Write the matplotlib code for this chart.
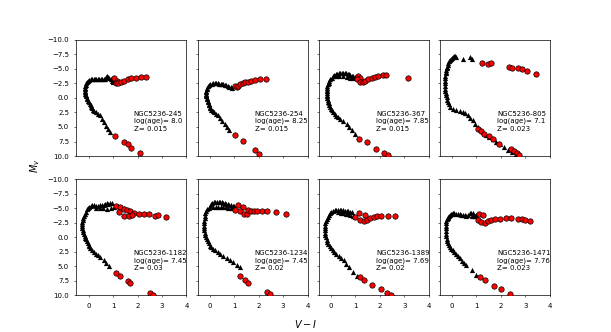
import numpy as np
import matplotlib.pyplot as plt

# クラスター名・年齢・金属量
names = ["NGC5236-245", "NGC5236-254", "NGC5236-367", "NGC5236-805",
         "NGC5236-1182", "NGC5236-1234", "NGC5236-1389", "NGC5236-1471"]
ages = ["8.0", "8.25", "7.85", "7.1", "7.45", "7.45", "7.69", "7.76"]
metals = ["0.015", "0.015", "0.015", "0.023", "0.03", "0.02", "0.02", "0.023"]

# 等時線 (V-I, Mv)
iso_245 = [(0.89, 5.85), (0.8, 5.3), (0.72, 4.8), (0.63, 4.2), (0.55, 3.6), (0.45, 3.0),
           (0.38, 2.7), (0.3, 2.4), (0.24, 2.2), (0.19, 2.0), (0.15, 1.75), (0.11, 1.5),
           (0.08, 1.25), (0.05, 1.0), (0.02, 0.75), (-0.02, 0.5), (-0.05, 0.25), (-0.08, 0.0),
           (-0.1, -0.25), (-0.12, -0.5), (-0.14, -0.75), (-0.15, -1.0), (-0.16, -1.25),
           (-0.16, -1.5), (-0.15, -1.75), (-0.14, -2.0), (-0.12, -2.25), (-0.09, -2.5),
           (-0.06, -2.7), (-0.02, -2.9), (0.03, -3.05), (0.08, -3.2), (0.14, -3.28),
           (0.2, -3.3), (0.26, -3.3), (0.32, -3.3), (0.38, -3.28), (0.44, -3.25), (0.5, -3.22),
           (0.56, -3.2), (0.62, -3.18), (0.68, -3.3), (0.72, -3.55), (0.76, -3.75),
           (0.8, -3.6), (0.85, -3.4), (0.9, -3.2), (0.95, -3.0), (1.0, -2.75)]
obs_245 = [(1.03, -3.37), (1.16, -2.97), (1.12, -2.5), (1.22, -2.6), (1.32, -2.8),
           (1.46, -2.97), (1.6, -3.2), (1.73, -3.37), (1.93, -3.49), (2.14, -3.54),
           (2.34, -3.66), (1.08, 6.6), (1.43, 7.58), (1.6, 7.98), (1.73, 8.56), (2.09, 9.48)]

iso_254 = [(0.8, 5.56), (0.72, 5.0), (0.63, 4.5), (0.52, 4.0), (0.42, 3.5), (0.32, 3.0),
           (0.25, 2.75), (0.18, 2.5), (0.12, 2.25), (0.07, 2.0), (0.03, 1.75), (0.0, 1.5),
           (-0.03, 1.25), (-0.05, 1.0), (-0.07, 0.75), (-0.09, 0.5), (-0.11, 0.25),
           (-0.12, 0.0), (-0.14, -0.25), (-0.15, -0.5), (-0.15, -0.75), (-0.15, -1.0),
           (-0.14, -1.25), (-0.12, -1.5), (-0.1, -1.75), (-0.07, -2.0), (-0.03, -2.2),
           (0.02, -2.35), (0.08, -2.45), (0.14, -2.52), (0.2, -2.55), (0.26, -2.53),
           (0.32, -2.5), (0.38, -2.47), (0.44, -2.43), (0.5, -2.38), (0.56, -2.32),
           (0.62, -2.25), (0.68, -2.15), (0.74, -2.05), (0.8, -1.95), (0.86, -1.82),
           (0.92, -1.7)]
obs_254 = [(1.03, -2.1), (1.1, -1.8), (1.16, -2.05), (1.23, -2.33), (1.34, -2.5),
           (1.43, -2.68), (1.57, -2.8), (1.7, -2.97), (1.84, -3.08), (2.04, -3.2),
           (2.28, -3.2), (1.03, 6.43), (1.34, 7.4), (1.84, 8.9), (2.01, 9.6)]

iso_367 = [(0.99, 6.14), (0.88, 5.6), (0.76, 5.0), (0.64, 4.5), (0.5, 4.0), (0.36, 3.6),
           (0.28, 3.35), (0.21, 3.05), (0.15, 2.75), (0.1, 2.45), (0.05, 2.15), (0.01, 1.85),
           (-0.03, 1.55), (-0.06, 1.25), (-0.09, 0.95), (-0.11, 0.65), (-0.13, 0.35),
           (-0.15, 0.05), (-0.16, -0.25), (-0.17, -0.55), (-0.17, -0.85), (-0.17, -1.15),
           (-0.16, -1.45), (-0.15, -1.75), (-0.14, -2.05), (-0.12, -2.35), (-0.09, -2.65),
           (-0.06, -2.95), (-0.02, -3.2), (0.03, -3.45), (0.08, -3.7), (0.14, -3.9),
           (0.2, -4.08), (0.26, -4.2), (0.32, -4.3), (0.38, -4.35), (0.44, -4.35),
           (0.5, -4.32), (0.56, -4.28), (0.62, -4.22), (0.68, -4.15), (0.74, -4.05),
           (0.8, -3.95), (0.86, -3.85), (0.92, -3.72), (0.98, -3.55), (0.2, -3.75),
           (0.35, -3.8), (0.5, -3.75), (0.65, -3.65), (0.8, -3.5), (0.9, -3.35)]
obs_367 = [(1.12, -3.83), (1.19, -3.37), (1.05, -3.2), (1.19, -2.68), (1.3, -2.8),
           (1.39, -2.97), (1.53, -3.2), (1.66, -3.49), (1.8, -3.66), (1.93, -3.78),
           (2.11, -3.89), (2.27, -3.95), (3.15, -3.37), (1.16, 7.0), (1.46, 7.58),
           (1.86, 8.73), (2.16, 9.48), (2.34, 9.9)]

iso_805 = [(2.74, 10.0), (2.6, 9.65), (2.47, 9.31), (2.3, 8.9), (2.14, 8.44), (1.97, 8.0),
           (1.8, 7.58), (1.66, 7.15), (1.53, 6.71), (1.4, 6.3), (1.26, 5.85), (1.15, 5.4),
           (1.05, 4.99), (0.95, 4.4), (0.85, 3.83), (0.75, 3.4), (0.65, 2.97), (0.55, 2.65),
           (0.45, 2.39), (0.32, 2.25), (0.18, 2.1), (0.05, 1.85), (-0.07, 1.53), (-0.12, 1.1),
           (-0.16, 0.66), (-0.19, 0.3), (-0.22, -0.1), (-0.24, -0.45), (-0.26, -0.78),
           (-0.28, -1.2), (-0.29, -1.6), (-0.3, -2.05), (-0.3, -2.5), (-0.29, -2.95),
           (-0.28, -3.4), (-0.27, -3.8), (-0.26, -4.24), (-0.25, -4.5), (-0.23, -4.8),
           (-0.22, -5.1), (-0.2, -5.39), (-0.18, -5.7), (-0.15, -6.0), (-0.12, -6.3),
           (-0.09, -6.54), (-0.05, -6.7), (0.0, -6.83), (0.04, -7.0), (0.07, -7.23),
           (0.12, -7.15), (0.18, -7.1), (0.45, -6.66), (0.72, -7.1), (0.82, -6.66)]
obs_805 = [(1.23, -5.97), (1.46, -5.85), (1.59, -5.97), (2.34, -5.39), (2.47, -5.22),
           (2.68, -5.1), (2.88, -4.93), (3.08, -4.7), (3.45, -4.12), (1.05, 5.27),
           (1.19, 5.68), (1.32, 6.14), (1.5, 6.54), (1.66, 7.0), (1.93, 7.98),
           (2.41, 8.73), (2.54, 9.13), (2.64, 9.48), (2.74, 9.88)]

iso_1182 = [(0.82, 4.96), (0.72, 4.4), (0.61, 3.91), (0.48, 3.4), (0.38, 3.1), (0.3, 2.8),
            (0.22, 2.5), (0.14, 2.2), (0.07, 1.88), (0.03, 1.55), (0.0, 1.25), (-0.04, 0.95),
            (-0.07, 0.65), (-0.1, 0.35), (-0.13, 0.05), (-0.16, -0.25), (-0.19, -0.6),
            (-0.22, -0.95), (-0.24, -1.3), (-0.26, -1.65), (-0.27, -2.0), (-0.27, -2.35),
            (-0.26, -2.7), (-0.24, -3.05), (-0.21, -3.4), (-0.18, -3.75), (-0.14, -4.1),
            (-0.1, -4.45), (-0.06, -4.8), (-0.02, -5.05), (0.03, -5.3), (0.08, -5.45),
            (0.15, -5.5), (0.22, -5.5), (0.3, -5.48), (0.38, -5.48), (0.46, -5.5),
            (0.54, -5.55), (0.62, -5.6), (0.68, -5.75), (0.74, -5.85), (0.8, -5.8),
            (0.87, -5.85), (0.95, -5.94), (0.3, -5.0), (0.45, -5.05), (0.6, -5.1),
            (0.75, -4.95), (0.9, -5.0), (1.05, -5.2), (1.16, -5.36), (1.3, -5.2), (1.43, -5.07)]
obs_1182 = [(1.13, -5.36), (1.27, -5.19), (1.43, -4.9), (1.57, -4.67), (1.71, -4.49),
            (1.84, -4.2), (2.05, -4.09), (2.25, -4.09), (2.46, -4.03), (2.73, -3.74),
            (2.83, -3.91), (3.18, -3.51), (1.23, -4.32), (1.43, -3.74), (1.64, -3.62),
            (1.77, -3.8), (1.13, 6.12), (1.3, 6.7), (1.6, 7.5), (1.71, 7.86),
            (2.52, 9.6), (2.63, 9.97)]

iso_1234 = [(1.24, 5.13), (1.1, 4.7), (0.97, 4.3), (0.83, 3.86), (0.7, 3.5), (0.56, 3.15),
            (0.42, 2.81), (0.32, 2.55), (0.22, 2.25), (0.12, 1.95), (0.04, 1.7), (0.0, 1.4),
            (-0.04, 1.05), (-0.08, 0.7), (-0.12, 0.35), (-0.15, 0.0), (-0.18, -0.4),
            (-0.2, -0.8), (-0.22, -1.2), (-0.23, -1.6), (-0.23, -2.0), (-0.23, -2.45),
            (-0.22, -2.9), (-0.21, -3.35), (-0.2, -3.75), (-0.18, -4.15), (-0.14, -4.5),
            (-0.1, -4.8), (-0.05, -5.1), (0.0, -5.4), (0.05, -5.7), (0.1, -5.9),
            (0.16, -6.02), (0.22, -6.1), (0.29, -6.17), (0.36, -6.15), (0.42, -6.1),
            (0.49, -6.05), (0.56, -6.0), (0.62, -5.9), (0.68, -5.82), (0.74, -5.74),
            (0.8, -5.65), (0.87, -5.55), (0.93, -5.48), (0.99, -5.4), (0.15, -5.3),
            (0.25, -5.3), (0.35, -5.27), (0.45, -5.23), (0.56, -5.19), (0.66, -5.15),
            (0.75, -5.1), (0.85, -5.05), (0.95, -5.0)]
obs_1234 = [(1.17, -5.59), (1.35, -5.19), (1.04, -4.78), (1.22, -4.49), (1.38, -4.09),
            (1.51, -4.09), (1.58, -4.78), (1.68, -4.49), (1.79, -4.49), (1.92, -4.49),
            (2.13, -4.61), (2.36, -4.49), (2.71, -4.38), (3.11, -4.09), (1.22, 6.72),
            (1.45, 7.3), (1.58, 7.77), (2.36, 9.45), (2.47, 9.8)]

iso_1389 = [(1.06, 6.72), (0.9, 5.9), (0.75, 5.1), (0.62, 4.5), (0.52, 3.91), (0.42, 3.55),
            (0.32, 3.2), (0.22, 2.9), (0.14, 2.55), (0.07, 2.2), (0.01, 1.85), (-0.05, 1.5),
            (-0.1, 1.15), (-0.14, 0.75), (-0.17, 0.4), (-0.2, 0.0), (-0.22, -0.4),
            (-0.23, -0.8), (-0.24, -1.2), (-0.24, -1.6), (-0.23, -2.0), (-0.22, -2.4),
            (-0.2, -2.8), (-0.17, -3.2), (-0.13, -3.55), (-0.09, -3.85), (-0.04, -4.15),
            (0.02, -4.38), (0.08, -4.55), (0.15, -4.65), (0.22, -4.72), (0.29, -4.78),
            (0.36, -4.75), (0.43, -4.72), (0.5, -4.68), (0.57, -4.62), (0.64, -4.56),
            (0.71, -4.5), (0.78, -4.44), (0.85, -4.38), (0.3, -4.3), (0.4, -4.25),
            (0.5, -4.2), (0.6, -4.1), (0.7, -4.0), (0.8, -3.9), (0.9, -3.75), (0.95, -3.65)]
obs_1389 = [(1.13, -4.2), (0.99, -3.45), (1.38, -3.8), (1.2, -3.04), (1.34, -2.87),
            (1.47, -3.04), (1.61, -3.33), (1.75, -3.51), (1.88, -3.62), (2.05, -3.74),
            (2.32, -3.62), (2.64, -3.62), (1.17, 6.9), (1.34, 7.36), (1.68, 8.17),
            (2.06, 8.93), (2.29, 9.51), (2.47, 10.0)]

iso_1471 = [(0.99, 6.43), (0.8, 5.6), (0.59, 4.72), (0.5, 4.35), (0.42, 4.0), (0.33, 3.6),
            (0.25, 3.26), (0.17, 2.9), (0.1, 2.6), (0.03, 2.25), (-0.03, 1.94), (-0.08, 1.6),
            (-0.12, 1.3), (-0.16, 0.95), (-0.2, 0.66), (-0.22, 0.25), (-0.24, -0.2),
            (-0.25, -0.65), (-0.26, -1.1), (-0.26, -1.55), (-0.25, -2.0), (-0.24, -2.4),
            (-0.23, -2.84), (-0.2, -3.1), (-0.18, -3.3), (-0.15, -3.5), (-0.12, -3.7),
            (-0.08, -3.88), (-0.04, -4.0), (0.0, -4.08), (0.04, -4.12), (0.1, -4.12),
            (0.17, -4.08), (0.24, -4.04), (0.31, -4.0), (0.38, -3.93), (0.45, -3.85),
            (0.52, -3.78), (0.59, -3.7), (0.66, -3.9), (0.72, -4.28), (0.79, -4.2),
            (0.86, -4.12), (0.8, -3.7), (0.88, -3.65), (0.95, -3.6), (1.0, -3.9)]
obs_1471 = [(1.1, -4.0), (1.27, -3.82), (1.06, -2.95), (1.2, -2.67), (1.34, -2.49),
            (1.47, -2.78), (1.61, -2.95), (1.75, -3.13), (1.95, -3.24), (2.2, -3.36),
            (2.43, -3.36), (2.7, -3.24), (2.84, -3.13), (2.97, -3.07), (3.2, -2.84),
            (1.13, 6.9), (1.34, 7.42), (1.7, 8.29), (2.02, 8.93), (2.36, 9.8)]

isochrones = [iso_245, iso_254, iso_367, iso_805, iso_1182, iso_1234, iso_1389, iso_1471]
observed = [obs_245, obs_254, obs_367, obs_805, obs_1182, obs_1234, obs_1389, obs_1471]

plt.rcParams['font.size'] = 5
plt.rcParams['axes.linewidth'] = 0.5
plt.rcParams['xtick.major.size'] = 1.75
plt.rcParams['ytick.major.size'] = 1.75
plt.rcParams['xtick.major.width'] = 0.4
plt.rcParams['ytick.major.width'] = 0.4

fig, axes = plt.subplots(2, 4, sharex=True, sharey=True, figsize=(6.11, 3.32), dpi=100)
fig.subplots_adjust(left=0.125, right=0.9, top=0.88, bottom=0.11, wspace=0.1, hspace=0.2)

for i, ax in enumerate(axes.flat):
    iso = np.array(isochrones[i])
    obs = np.array(observed[i])
    ax.scatter(iso[:, 0], iso[:, 1], marker='^', color='black', s=14, linewidths=0, zorder=2)
    ax.scatter(obs[:, 0], obs[:, 1], marker='o', facecolor='red', edgecolor='black',
               s=15, linewidths=0.5, zorder=3)
    ax.text(0.52, 0.39, f"{names[i]}\nlog(age)= {ages[i]}\nZ= {metals[i]}",
            transform=ax.transAxes, fontsize=5, va='top', ha='left', linespacing=1.25)
    ax.set_xlim(-0.5, 4)
    ax.set_ylim(10, -10)
    ax.set_xticks([0, 1, 2, 3, 4])
    ax.set_yticks(np.arange(-10, 10.1, 2.5))

fig.text(0.057, 0.5, '$M_v$', rotation=90, fontsize=7, ha='center', va='center')
fig.text(0.5, 0.025, '$V-I$', fontsize=7, ha='center', va='center')

plt.savefig('out.png', dpi=100)
